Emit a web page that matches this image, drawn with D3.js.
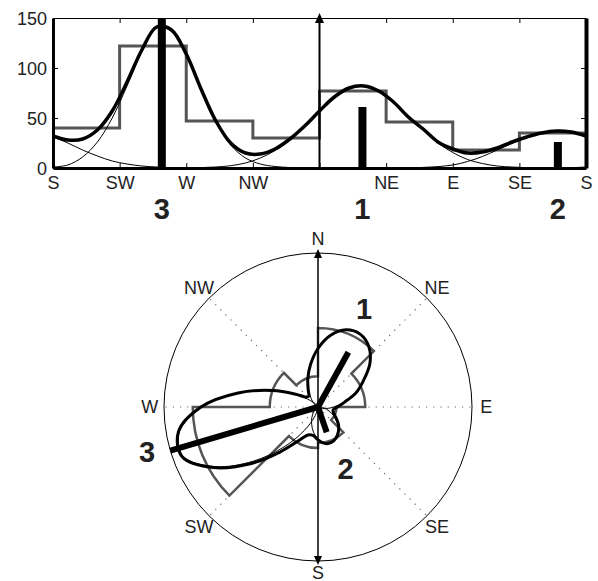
<!DOCTYPE html>
<html>
<head>
<meta charset="utf-8">
<script src="https://cdn.jsdelivr.net/npm/d3@7"></script>
<style>
body { margin: 0; background: #fff; }
svg { display: block; font-family: "Liberation Sans", Arial, Helvetica, sans-serif; }
</style>
</head>
<body>
<svg id="chart" width="598" height="581"></svg>
<script>

// histogram: 45 deg bins, start bearing (0 = N, clockwise) and count
var binStart = [0, 45, 90, 135, 180, 225, 270, 315];
var binCount = [77, 46, 18, 35, 40, 122, 47, 30];

// the three modes (bearing of the mean, length of the bar)
var modeName = ["1", "2", "3"];
var modeDir  = [29, 161, 253.5];
var modeLen  = [61, 26, 150];

// fitted curves, read every 10 deg of bearing (0, 10, ... 350)
var fitDir   = [0,10,20,30,40,50,60,70,80,90,100,110,120,130,140,150,160,170,
                180,190,200,210,220,230,240,250,260,270,280,290,300,310,320,330,340,350];
var fitTotal = [57,71,80,82,77,66,51,39,26,19,15,16,20,26,31,35,37,36,
                32,28,29,38,57,86,118,141,138,114,79,47,25,15,14,19,29,42];
var fitComp1 = [57,70.5,79.5,82,77,66,51,38,25,15.5,8.5,4.5,2,1,0.3,0,0,0,
                0,0,0,0,0,0,0,0,0,0,0.4,1,2.3,5,10,17.5,28.5,42];
var fitComp2 = [0,0,0,0,0,0,0,0.6,1.4,3,6.5,11.5,18,24.5,30.5,35,37,36,
                31,25,18,12,7,4,2,1,0.3,0,0,0,0,0,0,0,0,0];
var fitComp3 = [0,0,0,0,0,0,0,0,0,0,0,0,0,0,0,0,0,0.3,
                1,3,11,26,50,82,116,140,137,113,78,46,23,10,4,1.5,0.5,0];

// axis ticks
var yTicks = [0, 50, 100, 150];
var compassName = ["N", "NE", "E", "SE", "S", "SW", "W", "NW"];
var compassDir  = [0, 45, 90, 135, 180, 225, 270, 315];


var svg = d3.select("#chart");
var gray = "#555";

/*
 *  TOP PANEL: linear plot running S -> W -> N -> E -> S
 */
var panel = { left: 53, right: 586, top: 18, bottom: 168 };

// bearing -> degrees from S
function fromS(b) { return (b - 180 + 360) % 360; }

var x = d3.scaleLinear().domain([0, 360]).range([panel.left, panel.right]);
var y = d3.scaleLinear().domain([0, 150]).range([panel.bottom, panel.top]);

var gt = svg.append("g");

// histogram as a step line
var steps = binStart.map(function(b, i) { return [fromS(b), binCount[i]]; })
	.sort(function(a, b) { return a[0] - b[0]; });
steps.push([360, steps[steps.length - 1][1]]);

gt.append("path")
	.datum(steps)
	.attr("fill", "none")
	.attr("stroke", gray)
	.attr("stroke-width", 3)
	.attr("d", d3.line()
		.x(function(d) { return x(d[0]); })
		.y(function(d) { return y(d[1]); })
		.curve(d3.curveStepAfter));

// curve points in S..S order, the S value repeated at the right edge
function topPoints(vals) {
	var pts = fitDir.map(function(b, i) { return [fromS(b), vals[i]]; })
		.sort(function(a, b) { return a[0] - b[0]; });
	pts.push([360, pts[0][1]]);
	return pts;
}

var topLine = d3.line()
	.x(function(d) { return x(d[0]); })
	.y(function(d) { return y(Math.max(0, d[1])); })
	.curve(d3.curveCatmullRom);

[fitComp1, fitComp2, fitComp3].forEach(function(c) {
	gt.append("path")
		.datum(topPoints(c))
		.attr("fill", "none")
		.attr("stroke", "#000")
		.attr("stroke-width", 1)
		.attr("d", topLine);
});

gt.append("path")
	.datum(topPoints(fitTotal))
	.attr("fill", "none")
	.attr("stroke", "#000")
	.attr("stroke-width", 3.5)
	.attr("d", topLine);

// mode bars
gt.selectAll("rect.bar")
	.data(modeDir).enter()
	.append("rect")
		.attr("class", "bar")
		.attr("x", function(d) { return x(fromS(d)) - 4; })
		.attr("width", 8)
		.attr("y", function(d, i) { return y(modeLen[i]); })
		.attr("height", function(d, i) { return y(0) - y(modeLen[i]); })
		.attr("fill", "#000");

// axes (ticks pointing inward)
var xTickPos = compassDir.map(function(b) { return fromS(b); }).concat([360]);
var xTickName = compassName.concat(["S"]);
function xLabel(d) { var i = xTickPos.indexOf(d); return xTickName[i] === "N" ? "" : xTickName[i]; }

var xAxis = gt.append("g")
	.attr("transform", "translate(0," + panel.bottom + ")")
	.call(d3.axisBottom(x).tickValues(xTickPos).tickSizeInner(-5).tickSizeOuter(0)
		.tickPadding(8).tickFormat(xLabel));

var xAxisTop = gt.append("g")
	.attr("transform", "translate(0," + panel.top + ")")
	.call(d3.axisTop(x).tickValues(xTickPos.filter(function(d) { return d % 180; }))
		.tickSizeInner(-5).tickSizeOuter(0).tickFormat(""));

var yAxis = gt.append("g")
	.attr("transform", "translate(" + panel.left + ",0)")
	.call(d3.axisLeft(y).tickValues(yTicks).tickSizeInner(-5).tickSizeOuter(0).tickPadding(6));

var yAxisRight = gt.append("g")
	.attr("transform", "translate(" + panel.right + ",0)")
	.call(d3.axisRight(y).tickValues([50, 100]).tickSizeInner(-5).tickSizeOuter(0).tickFormat(""));

gt.selectAll(".tick line").attr("stroke", "#000").attr("stroke-width", 1);
gt.selectAll(".tick text").attr("fill", "#222").style("font-size", "18px")
	.style("font-family", "'Liberation Sans', Arial, sans-serif");
gt.selectAll(".domain").attr("stroke", "#000");
xAxis.select(".domain").attr("stroke-width", 3);
yAxis.select(".domain").attr("stroke-width", 3);
yAxisRight.select(".domain").attr("stroke-width", 4);
xAxisTop.select(".domain").attr("stroke-width", 1);
yAxis.selectAll(".tick text").attr("dy", "0.35em");

// north line with arrow
var xN = x(fromS(0));
gt.append("line")
	.attr("x1", xN).attr("x2", xN)
	.attr("y1", panel.bottom).attr("y2", panel.top + 4)
	.attr("stroke", "#000").attr("stroke-width", 2);
gt.append("path")
	.attr("d", "M" + xN + "," + (panel.top - 5) + "l4.5,10h-9z")
	.attr("fill", "#000");

// mode numbers under the axis
gt.selectAll("text.mode")
	.data(modeName).enter()
	.append("text")
		.attr("class", "mode")
		.attr("x", function(d, i) { return x(fromS(modeDir[i])); })
		.attr("y", 219)
		.attr("text-anchor", "middle")
		.style("font-size", "29px")
		.style("font-weight", "bold")
		.attr("fill", "#222")
		.text(function(d) { return d; });


/*
 *  BOTTOM PANEL: polar plot
 */
var cx = 318, cy = 407, R = 154;
var r = d3.scaleLinear().domain([0, 150]).range([0, R]);
var rad = Math.PI / 180;

var gp = svg.append("g").attr("transform", "translate(" + cx + "," + cy + ")");

function px(b, v) { return r(v) * Math.sin(b * rad); }
function py(b, v) { return -r(v) * Math.cos(b * rad); }

gp.append("circle")
	.attr("r", R)
	.attr("fill", "none")
	.attr("stroke", "#000")
	.attr("stroke-width", 1);

// dotted direction lines
gp.selectAll("line.dir")
	.data(compassDir.filter(function(b) { return b % 180; })).enter()
	.append("line")
		.attr("class", "dir")
		.attr("x1", 0).attr("y1", 0)
		.attr("x2", function(b) { return px(b, 150); })
		.attr("y2", function(b) { return py(b, 150); })
		.attr("stroke", "#666")
		.attr("stroke-width", 1.2)
		.attr("stroke-dasharray", "1.2,6");

// histogram rose outline
var rose = d3.path();
binStart.forEach(function(b, i) {
	rose.arc(0, 0, r(binCount[i]), (b - 90) * rad, (b + 45 - 90) * rad);
});
rose.closePath();
gp.append("path")
	.attr("d", rose.toString())
	.attr("fill", "none")
	.attr("stroke", gray)
	.attr("stroke-width", 2.5);

var radial = d3.lineRadial()
	.angle(function(d) { return d[0] * rad; })
	.radius(function(d) { return r(Math.max(0, d[1])); })
	.curve(d3.curveCatmullRomClosed);

function polarPoints(vals) {
	return fitDir.map(function(b, i) { return [b, vals[i]]; });
}

[fitComp1, fitComp2, fitComp3].forEach(function(c) {
	gp.append("path")
		.datum(polarPoints(c))
		.attr("fill", "none")
		.attr("stroke", "#000")
		.attr("stroke-width", 1)
		.attr("d", radial);
});

gp.append("path")
	.datum(polarPoints(fitTotal))
	.attr("fill", "none")
	.attr("stroke", "#000")
	.attr("stroke-width", 3)
	.attr("d", radial);

// N-S line with arrows at both ends
gp.append("line")
	.attr("x1", 0).attr("y1", -R + 4)
	.attr("x2", 0).attr("y2", R - 4)
	.attr("stroke", "#000").attr("stroke-width", 1.5);
gp.append("path").attr("d", "M0," + (-R - 4) + "l4,9h-8z").attr("fill", "#000");
gp.append("path").attr("d", "M0," + (R + 4) + "l4,-9h-8z").attr("fill", "#000");

// mode bars
gp.selectAll("line.bar")
	.data(modeDir).enter()
	.append("line")
		.attr("class", "bar")
		.attr("x1", 0).attr("y1", 0)
		.attr("x2", function(d, i) { return px(d, modeLen[i]); })
		.attr("y2", function(d, i) { return py(d, modeLen[i]); })
		.attr("stroke", "#000")
		.attr("stroke-width", 6);

// compass labels
gp.selectAll("text.compass")
	.data(compassName).enter()
	.append("text")
		.attr("class", "compass")
		.attr("x", function(d, i) { return px(compassDir[i], 164); })
		.attr("y", function(d, i) { return py(compassDir[i], compassDir[i] === 180 ? 161 : 164); })
		.attr("dy", "0.36em")
		.attr("text-anchor", "middle")
		.style("font-size", "18px")
		.attr("fill", "#222")
		.text(function(d) { return d; });

// mode numbers next to their bars
var modeLabelGap = [45, 40, 22];
var modeLabelTurn = [-4, -5, 2];
gp.selectAll("text.mode")
	.data(modeName).enter()
	.append("text")
		.attr("class", "mode")
		.attr("x", function(d, i) { return px(modeDir[i] + modeLabelTurn[i], modeLen[i] + modeLabelGap[i]); })
		.attr("y", function(d, i) { return py(modeDir[i] + modeLabelTurn[i], modeLen[i] + modeLabelGap[i]); })
		.attr("dy", "0.36em")
		.attr("text-anchor", "middle")
		.style("font-size", "29px")
		.style("font-weight", "bold")
		.attr("fill", "#222")
		.text(function(d) { return d; });

</script>
</body>
</html>
